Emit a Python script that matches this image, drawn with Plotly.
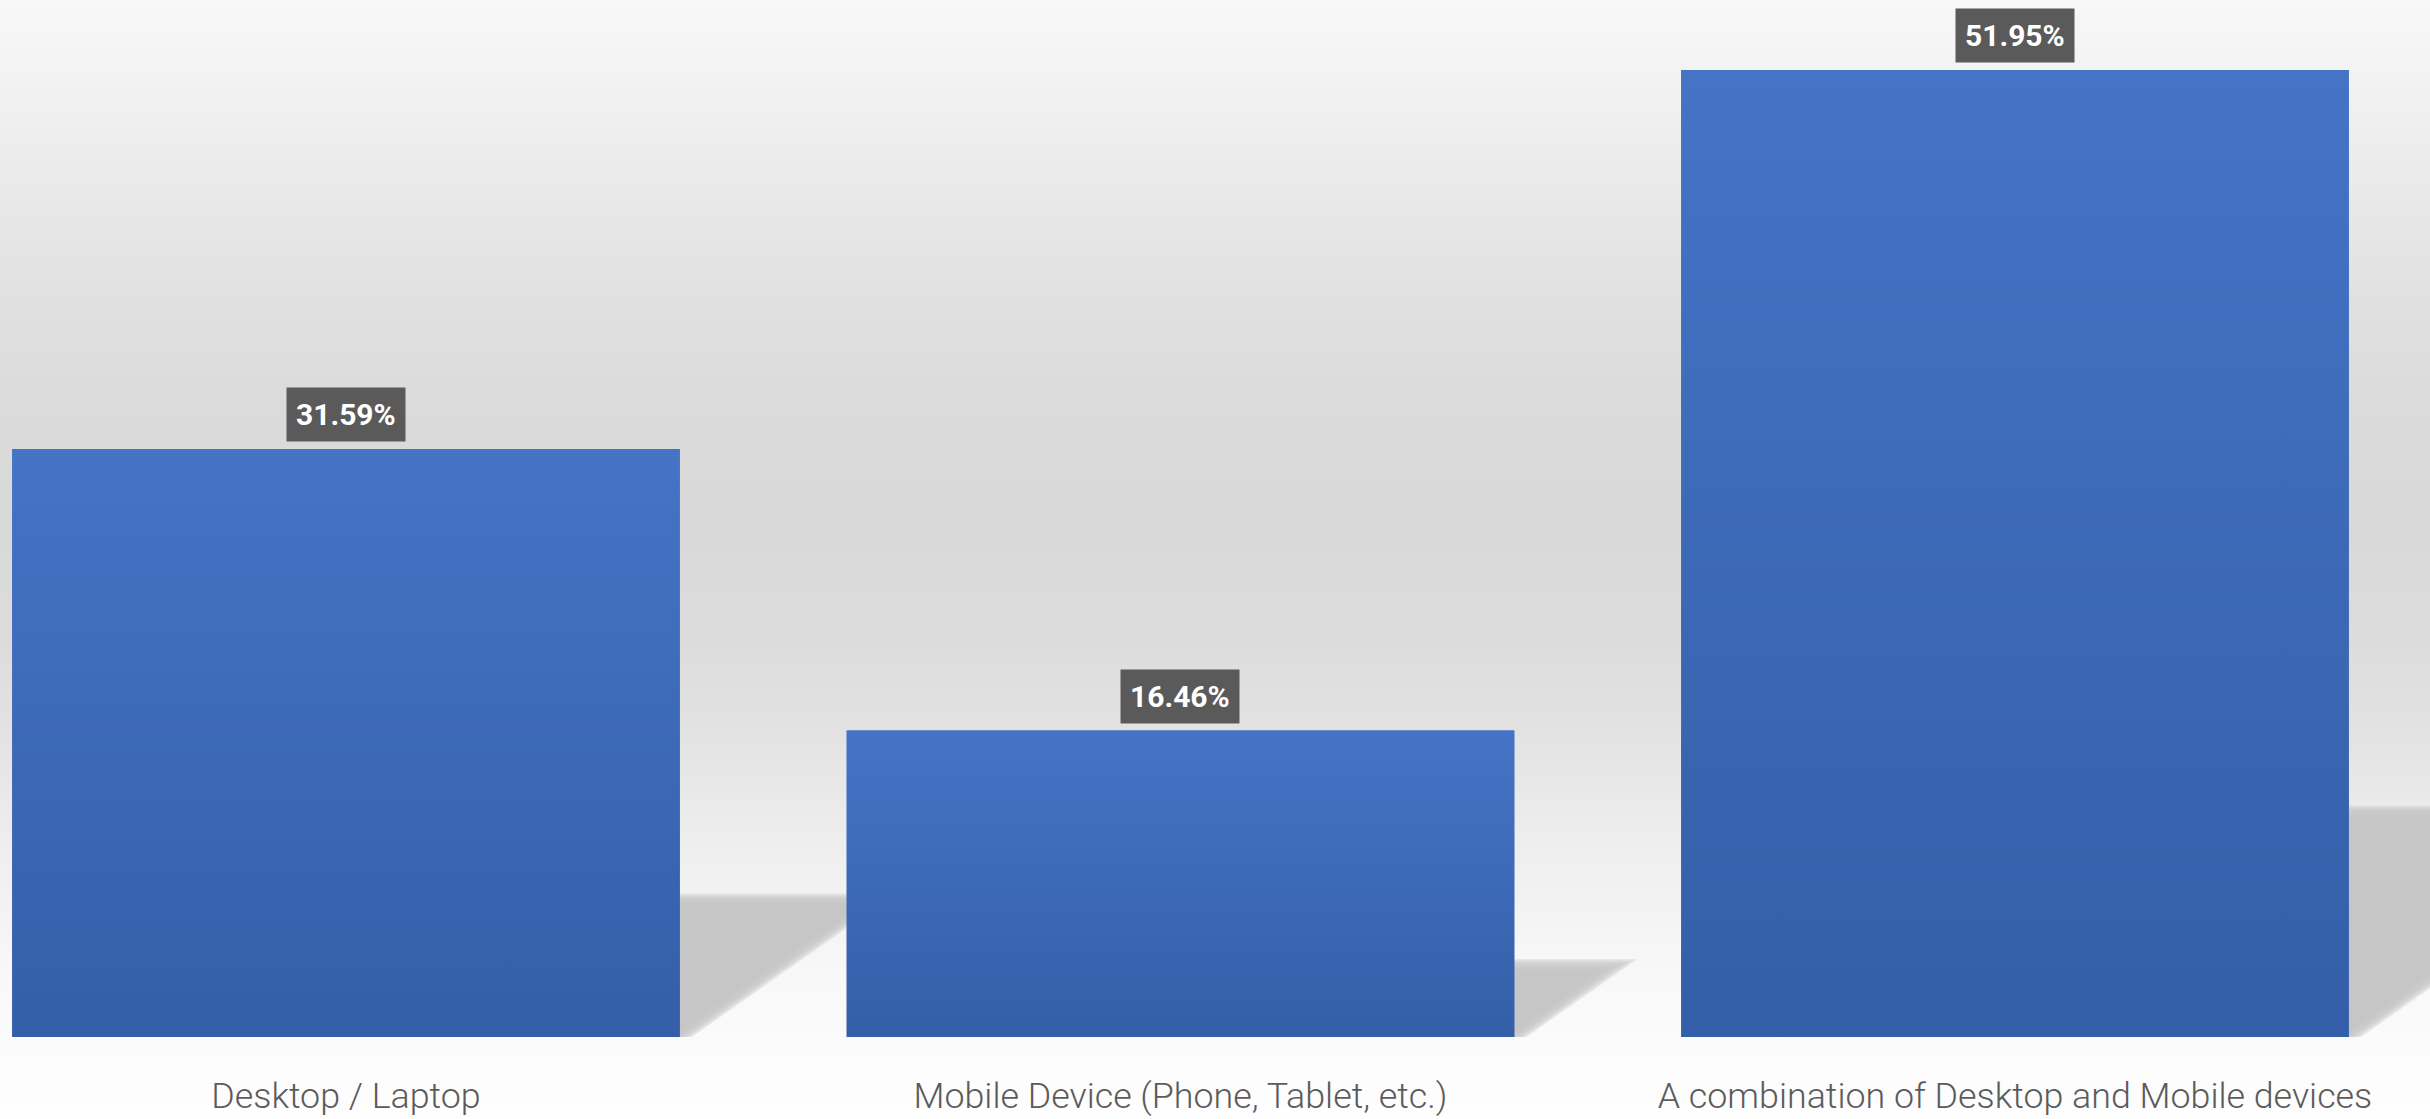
import base64
import struct
import zlib

import plotly.graph_objects as go

# ---- data ---------------------------------------------------------------
categories = [
    "Desktop / Laptop",
    "Mobile Device (Phone, Tablet, etc.)",
    "A combination of Desktop and Mobile devices",
]
shares = [31.59, 16.46, 51.95]

# ---- layout constants ---------------------------------------------------
FIG_W, FIG_H = 2430, 1119
MARGIN_B = 82
PLOT_H = FIG_H - MARGIN_B
Y_MAX = 55.71
X_RANGE = [-0.4146, 2.4973]
BAR_WIDTH = 0.8

BAR_TOP = "#4574c6"
BAR_BOTTOM = "#345ea7"
LABEL_BG = "#5a5a5a"
TEXT_COLOR = "#5b5b5b"
SHADOW_COLOR = "#c4c4c4"

# pixels per axis unit
KX = FIG_W / (X_RANGE[1] - X_RANGE[0])
KY = PLOT_H / Y_MAX

# floor shadow: height relative to bar height, and horizontal lean per px of height
SHADOW_RATIO = 0.232
SHADOW_LEAN = 1.42

# background grey ramp (row in px from top, grey level)
BG_STOPS = [
    (0, 248), (107, 240), (214, 231), (321, 223), (428, 218), (535, 217),
    (642, 220), (714, 225), (785, 232), (857, 239), (900, 242), (960, 247),
    (1040, 251), (1119, 254),
]


def ramp(stops, n):
    out = []
    for row in range(n):
        for (y0, g0), (y1, g1) in zip(stops, stops[1:]):
            if y0 <= row <= y1:
                t = (row - y0) / (y1 - y0) if y1 > y0 else 0
                out.append(int(round(g0 + (g1 - g0) * t)))
                break
        else:
            out.append(stops[-1][1])
    return out


def gray_column_png(values):
    raw = b"".join(b"\x00" + bytes([v]) for v in values)

    def chunk(tag, data):
        body = tag + data
        return struct.pack(">I", len(data)) + body + struct.pack(">I", zlib.crc32(body) & 0xFFFFFFFF)

    ihdr = struct.pack(">IIBBBBB", 1, len(values), 8, 0, 0, 0, 0)
    png = (b"\x89PNG\r\n\x1a\n" + chunk(b"IHDR", ihdr)
           + chunk(b"IDAT", zlib.compress(raw, 9)) + chunk(b"IEND", b""))
    return "data:image/png;base64," + base64.b64encode(png).decode()


xs = list(range(len(categories)))

fig = go.Figure()

# bars
fig.add_trace(go.Bar(
    x=xs, y=shares, width=BAR_WIDTH,
    marker=dict(color=BAR_TOP, line=dict(width=0)),
    hoverinfo="skip",
))

# vertical gradient face on each bar
for x, v in zip(xs, shares):
    x0, x1 = x - BAR_WIDTH / 2, x + BAR_WIDTH / 2
    fig.add_trace(go.Scatter(
        x=[x0, x1, x1, x0, x0], y=[0, 0, v, v, 0],
        mode="lines", line=dict(width=0), fill="toself",
        fillgradient=dict(type="vertical", start=0, stop=v,
                          colorscale=[[0, BAR_BOTTOM], [1, BAR_TOP]]),
        hoverinfo="skip", showlegend=False,
    ))

# soft floor shadows behind the bars (stacked translucent layers for a blurred edge)
shapes = []
BLUR_STEPS = 10
BLUR_PX = 7.0
for x, v in zip(xs, shares):
    xr = x + BAR_WIDTH / 2
    h_px = SHADOW_RATIO * v * KY
    for i in range(BLUR_STEPS):
        d = -BLUR_PX + 2 * BLUR_PX * i / (BLUR_STEPS - 1)  # inset in px
        top = h_px - d
        shift = -1.75 * d
        pts_px = [
            (-120, 0),
            (shift, 0),
            (shift + SHADOW_LEAN * top, top),
            (-120, top),
        ]
        path = "M " + " L ".join(
            f"{xr + px / KX:.5f},{py / KY:.5f}" for px, py in pts_px) + " Z"
        shapes.append(dict(
            type="path", path=path, xref="x", yref="y",
            fillcolor=SHADOW_COLOR, opacity=0.33, line=dict(width=0),
            layer="below",
        ))

# value labels on dark boxes
annotations = [
    dict(
        x=x, y=v, text=f"{v:.2f}%", xref="x", yref="y",
        showarrow=False, yanchor="bottom", yshift=7,
        font=dict(family="Roboto", size=30, color="white", weight="bold"),
        bgcolor=LABEL_BG, borderpad=9,
    )
    for x, v in zip(xs, shares)
]

fig.update_layout(
    width=FIG_W, height=FIG_H,
    margin=dict(l=0, r=0, t=0, b=MARGIN_B, pad=0),
    paper_bgcolor="#ffffff",
    plot_bgcolor="rgba(0,0,0,0)",
    showlegend=False,
    bargap=0.2,
    shapes=shapes,
    annotations=annotations,
    images=[dict(
        source=gray_column_png(ramp(BG_STOPS, FIG_H)),
        xref="paper", yref="paper", x=0, y=1,
        sizex=1, sizey=FIG_H / PLOT_H,
        xanchor="left", yanchor="top",
        sizing="stretch", layer="below",
    )],
    xaxis=dict(
        range=X_RANGE, tickvals=xs, ticktext=categories,
        showgrid=False, zeroline=False, showline=False, automargin=False,
        ticks="outside", ticklen=27, tickcolor="rgba(0,0,0,0)",
        tickfont=dict(family="Roboto", size=35.8, color=TEXT_COLOR, weight=300),
        fixedrange=True,
    ),
    yaxis=dict(
        range=[0, Y_MAX], visible=False, showgrid=False, zeroline=False,
        automargin=False, fixedrange=True,
    ),
)

fig.write_html("out.html", config=dict(displayModeBar=False))
